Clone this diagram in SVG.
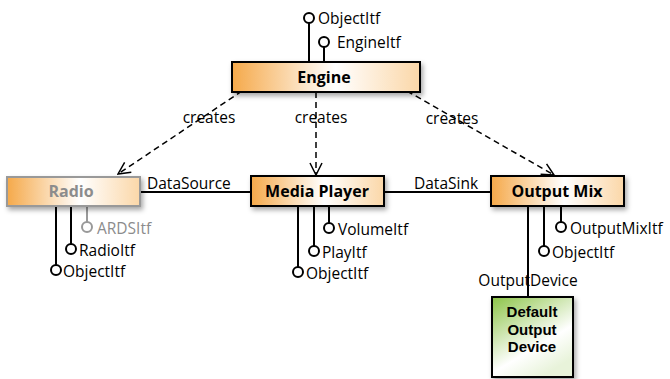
<svg xmlns="http://www.w3.org/2000/svg" width="670" height="379" viewBox="0 0 670 379">
<defs>
<linearGradient id="org" x1="0" y1="0" x2="1" y2="0">
<stop offset="0" stop-color="#f5a94a"/>
<stop offset="0.55" stop-color="#ffffff"/>
<stop offset="1" stop-color="#fbd7a8"/>
</linearGradient>
<linearGradient id="grn" x1="0" y1="0" x2="0.6" y2="1">
<stop offset="0" stop-color="#8cc447"/>
<stop offset="0.7" stop-color="#ffffff"/>
<stop offset="1" stop-color="#e8f3da"/>
</linearGradient>
<filter id="sh" x="-20%" y="-30%" width="140%" height="170%">
<feDropShadow dx="2" dy="3" stdDeviation="2.5" flood-color="#000" flood-opacity="0.35"/>
</filter>
<marker id="arr" viewBox="0 0 14 14" refX="13" refY="7" markerWidth="14" markerHeight="14" markerUnits="userSpaceOnUse" orient="auto">
<path d="M1,1 L13,7 L1,13" fill="none" stroke="#000" stroke-width="1.5"/>
</marker>
</defs>
<style>
.box{stroke:#000;stroke-width:2;filter:url(#sh)}
.t{font-family:"Open Sans","Liberation Sans",sans-serif;font-size:15.5px;fill:#000}
.b{font-weight:bold;text-anchor:middle;font-size:16px}
.dd{font-family:"Liberation Sans",Arial,sans-serif;font-size:15px;font-weight:bold;text-anchor:middle;fill:#000}
.ln{stroke:#000;stroke-width:2;fill:none}
.lp{stroke:#000;stroke-width:2;fill:#fff}
.dash{stroke:#000;stroke-width:1.5;stroke-dasharray:6,4;fill:none}
.gray{stroke:#999}
.gt{fill:#8c8c8c}
</style>
<rect width="670" height="379" fill="#fff"/>
<g id="connectors">
<path class="dash" d="M242,91 L118,174" marker-end="url(#arr)"/>
<path class="dash" d="M316,92 L316,175" marker-end="url(#arr)"/>
<path class="dash" d="M407,91 L554,175" marker-end="url(#arr)"/>
<text class="t" x="209" y="123" text-anchor="middle">creates</text>
<text class="t" x="321" y="123" text-anchor="middle">creates</text>
<text class="t" x="452" y="124" text-anchor="middle">creates</text>
<path class="ln" d="M140,192 L251,192"/>
<text class="t" x="147" y="189">DataSource</text>
<path class="ln" d="M384,192 L491,192"/>
<text class="t" x="414" y="189">DataSink</text>
<path class="ln" d="M528,206 L528,297"/>
<text class="t" x="528" y="286" text-anchor="middle">OutputDevice</text>
</g>
<g id="engine">
<path class="ln" d="M309,62 L309,23"/>
<circle class="lp" cx="309" cy="18" r="5"/>
<text class="t" x="318" y="24">ObjectItf</text>
<path class="ln" d="M324,62 L324,47"/>
<circle class="lp" cx="324" cy="42" r="5"/>
<text class="t" x="337" y="48">EngineItf</text>
<rect class="box" x="232" y="62" width="188" height="30" fill="url(#org)"/>
<text class="t b" x="324" y="83">Engine</text>
</g>
<g id="radio">
<path class="ln" d="M56,206 L56,265"/>
<circle class="lp" cx="56" cy="270" r="5"/>
<text class="t" x="63" y="277">ObjectItf</text>
<path class="ln" d="M71,206 L71,244"/>
<circle class="lp" cx="71" cy="249" r="5"/>
<text class="t" x="79" y="256">RadioItf</text>
<path class="ln gray" d="M87,206 L87,222"/>
<circle class="lp gray" cx="87" cy="227" r="5"/>
<text class="t gt" x="97" y="234">ARDSItf</text>
<rect class="box" x="7" y="177" width="133" height="29" fill="url(#org)" style="stroke:#999"/>
<text class="t b gt" x="71" y="197">Radio</text>
</g>
<g id="mediaplayer">
<path class="ln" d="M298,206 L298,267"/>
<circle class="lp" cx="298" cy="272" r="5"/>
<text class="t" x="306" y="279">ObjectItf</text>
<path class="ln" d="M314,206 L314,246"/>
<circle class="lp" cx="314" cy="251" r="5"/>
<text class="t" x="322" y="258">PlayItf</text>
<path class="ln" d="M329,206 L329,223"/>
<circle class="lp" cx="329" cy="228" r="5"/>
<text class="t" x="338" y="235">VolumeItf</text>
<rect class="box" x="251" y="176" width="133" height="30" fill="url(#org)"/>
<text class="t b" x="317" y="197">Media Player</text>
</g>
<g id="outputmix">
<path class="ln" d="M544,206 L544,246"/>
<circle class="lp" cx="544" cy="251" r="5"/>
<text class="t" x="552" y="258">ObjectItf</text>
<path class="ln" d="M561,206 L561,222"/>
<circle class="lp" cx="561" cy="227" r="5"/>
<text class="t" x="570" y="234">OutputMixItf</text>
<rect class="box" x="491" y="176" width="133" height="30" fill="url(#org)"/>
<text class="t b" x="557" y="197">Output Mix</text>
</g>
<g id="defaultdevice">
<rect class="box" x="492" y="297" width="81" height="80" fill="url(#grn)"/>
<text class="dd" x="532" y="317">Default</text>
<text class="dd" x="532" y="334.5">Output</text>
<text class="dd" x="532" y="352">Device</text>
</g>
</svg>
